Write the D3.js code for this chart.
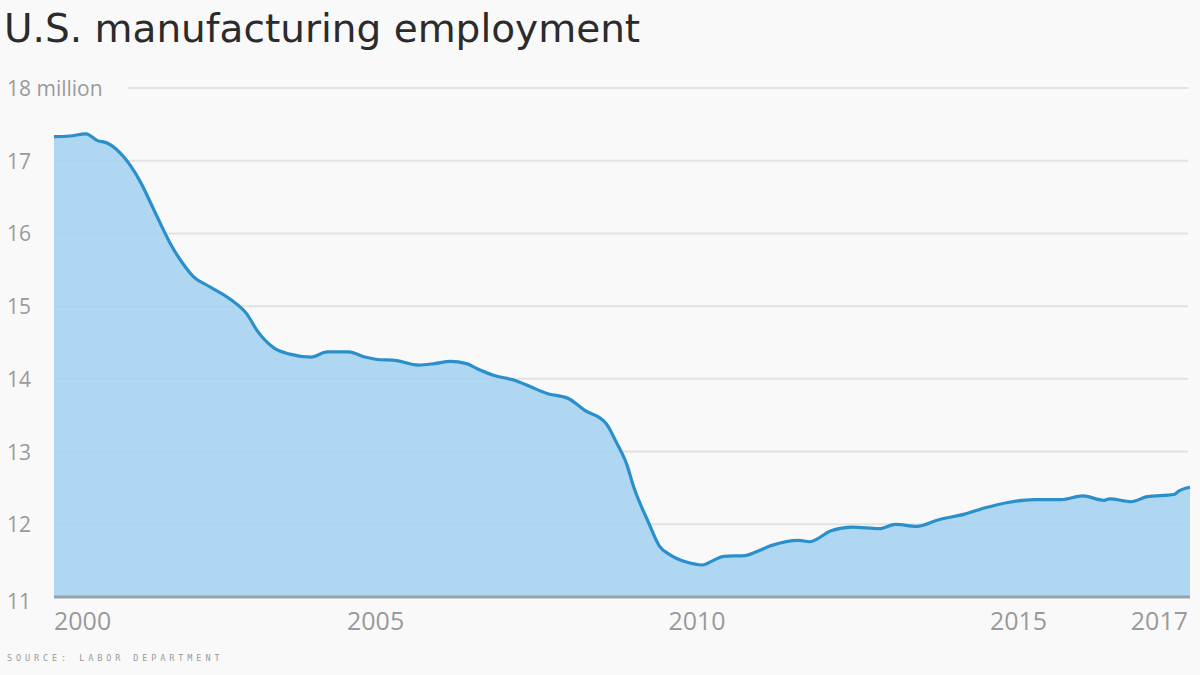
<!DOCTYPE html>
<html>
<head>
<meta charset="utf-8">
<script src="https://cdn.jsdelivr.net/npm/d3@7"></script>
<style>
  html, body { margin: 0; padding: 0; background: #f9f9f9; }
  svg { display: block; }
</style>
</head>
<body>
<svg id="chart"></svg>
<script>
// monthly readings (millions)
const months = [
  "2000-01", "2000-04", "2000-07", "2000-09", "2000-11",
  "2001-02", "2001-05", "2001-08", "2001-11",
  "2002-01", "2002-03", "2002-06", "2002-10",
  "2003-01", "2003-03", "2003-06", "2003-09",
  "2004-01", "2004-04", "2004-08", "2004-11",
  "2005-01", "2005-05", "2005-09", "2005-12",
  "2006-03", "2006-06", "2006-08", "2006-11",
  "2007-03", "2007-06", "2007-09",
  "2008-01", "2008-04", "2008-08", "2008-10", "2008-12",
  "2009-01", "2009-04", "2009-06", "2009-08", "2009-11",
  "2010-02", "2010-04", "2010-06", "2010-10", "2010-12",
  "2011-03", "2011-08", "2011-10",
  "2012-02", "2012-06", "2012-11",
  "2013-02", "2013-06", "2013-10",
  "2014-03", "2014-07", "2014-11",
  "2015-04", "2015-09",
  "2016-01", "2016-05", "2016-06", "2016-10",
  "2017-01", "2017-06", "2017-07", "2017-09"
];
const jobs = [
  17.33, 17.34, 17.37, 17.28, 17.24,
  17.05, 16.73, 16.27, 15.82,
  15.59, 15.41, 15.27, 15.09,
  14.89, 14.66, 14.43, 14.34,
  14.30, 14.37, 14.37, 14.30,
  14.27, 14.25, 14.19, 14.21,
  14.24, 14.21, 14.14, 14.05,
  13.98, 13.89, 13.80,
  13.73, 13.57, 13.39, 13.12, 12.80,
  12.55, 12.02, 11.70, 11.58, 11.48,
  11.44, 11.50, 11.56, 11.57, 11.62,
  11.71, 11.78, 11.76,
  11.91, 11.96, 11.94,
  12.00, 11.97, 12.06,
  12.14, 12.23, 12.30,
  12.34, 12.34,
  12.39, 12.33, 12.35, 12.31,
  12.38, 12.41, 12.46, 12.51
];
const yTicks = [11, 12, 13, 14, 15, 16, 17, 18];
const xTickYears = [2000, 2005, 2010, 2015, 2017];

const width = 1200;
const height = 675;
const margin = { top: 88, right: 10, bottom: 78, left: 54 };
const plotRight = 1190;

const parse = d3.timeParse("%Y-%m");
const data = months.map((m, i) => ({ date: parse(m), value: jobs[i] }));

const svg = d3.select("#chart").attr("width", width).attr("height", height);

const x = d3
  .scaleTime()
  .domain(d3.extent(data, (d) => d.date))
  .range([margin.left, plotRight]);

const y = d3
  .scaleLinear()
  .domain([11, 18])
  .range([height - margin.bottom, margin.top]);

// title
svg
  .append("text")
  .attr("x", 4)
  .attr("y", 42)
  .attr("font-family", "'DejaVu Sans', sans-serif")
  .attr("font-size", 39)
  .attr("fill", "#2b2b2b")
  .text("U.S. manufacturing employment");

// gridlines
svg
  .append("g")
  .selectAll("line")
  .data(yTicks.filter((d) => d > 11))
  .join("line")
  .attr("x1", (d) => (d === 18 ? 128 : margin.left))
  .attr("x2", plotRight - 2)
  .attr("y1", (d) => y(d))
  .attr("y2", (d) => y(d))
  .attr("stroke", "#e2e2e2")
  .attr("stroke-width", 2);

// area + line
const area = d3
  .area()
  .x((d) => x(d.date))
  .y0(y(11))
  .y1((d) => y(d.value))
  .curve(d3.curveMonotoneX);

const line = d3
  .line()
  .x((d) => x(d.date))
  .y((d) => y(d.value))
  .curve(d3.curveMonotoneX);

svg
  .append("path")
  .datum(data)
  .attr("d", area)
  .attr("fill", "#a6d3f0")
  .attr("fill-opacity", 0.9);

svg
  .append("path")
  .datum(data)
  .attr("d", line)
  .attr("fill", "none")
  .attr("stroke", "#2a8fcb")
  .attr("stroke-width", 3.2)
  .attr("stroke-linejoin", "round");

// baseline
svg
  .append("line")
  .attr("x1", margin.left)
  .attr("x2", plotRight)
  .attr("y1", y(11))
  .attr("y2", y(11))
  .attr("stroke", "#97a3ab")
  .attr("stroke-width", 3);

// y labels
svg
  .append("g")
  .selectAll("text")
  .data(yTicks)
  .join("text")
  .attr("x", 7)
  .attr("y", (d) => y(d) + (d === 11 ? 12 : 8))
  .attr("font-family", "'Open Sans', sans-serif")
  .attr("font-size", 21)
  .attr("fill", "#9a9a9a")
  .text((d) => (d === 18 ? "18 million" : d));

// x labels
svg
  .append("g")
  .selectAll("text")
  .data(xTickYears)
  .join("text")
  .attr("x", (d, i) =>
    i === 0 ? margin.left : i === xTickYears.length - 1 ? plotRight - 2 : x(new Date(d, 0, 1))
  )
  .attr("y", 630)
  .attr("text-anchor", (d, i) =>
    i === 0 ? "start" : i === xTickYears.length - 1 ? "end" : "middle"
  )
  .attr("font-family", "'Open Sans', sans-serif")
  .attr("font-size", 25)
  .attr("fill", "#9a9a9a")
  .text((d) => d);

// source
svg
  .append("text")
  .attr("x", 7)
  .attr("y", 661)
  .attr("font-family", "'DejaVu Sans Mono', monospace")
  .attr("font-size", 8.5)
  .attr("letter-spacing", 3.9)
  .attr("fill", "#9a9a9a")
  .text("SOURCE: LABOR DEPARTMENT");
</script>
</body>
</html>
